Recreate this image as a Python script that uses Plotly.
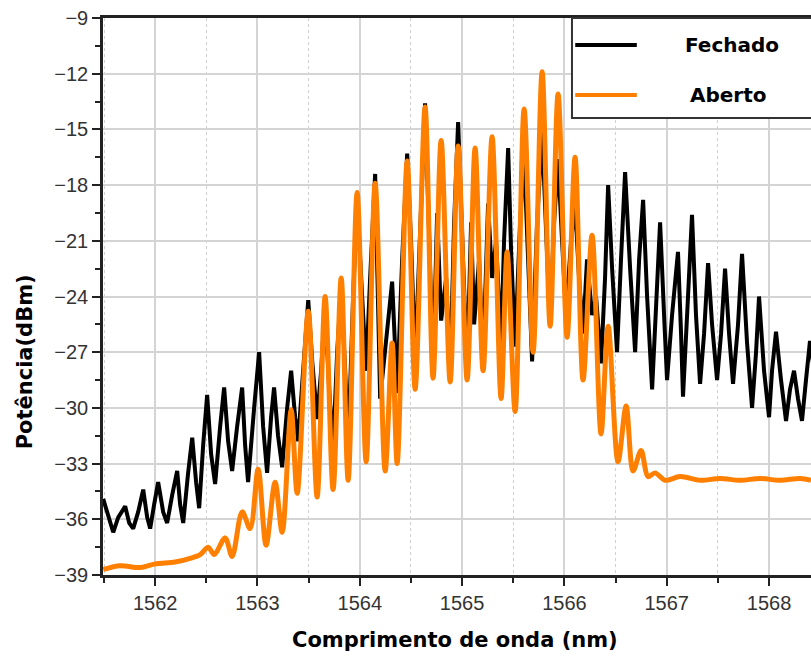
import plotly.graph_objects as go

# ---- data ----
wl_fechado = [1561.492, 1561.541, 1561.590, 1561.639, 1561.707, 1561.746, 1561.785, 1561.834, 1561.883, 1561.922,
              1561.951, 1561.990, 1562.029, 1562.078, 1562.117, 1562.166, 1562.215, 1562.244, 1562.274, 1562.322,
              1562.362, 1562.400, 1562.430, 1562.469, 1562.508, 1562.547, 1562.586, 1562.635, 1562.674, 1562.713,
              1562.752, 1562.801, 1562.850, 1562.879, 1562.908, 1562.967, 1563.016, 1563.055, 1563.094, 1563.133,
              1563.162, 1563.201, 1563.241, 1563.290, 1563.329, 1563.368, 1563.397, 1563.446, 1563.496, 1563.535,
              1563.583, 1563.622, 1563.661, 1563.701, 1563.739, 1563.779, 1563.818, 1563.857, 1563.886, 1563.935,
              1563.974, 1564.023, 1564.062, 1564.101, 1564.150, 1564.199, 1564.248, 1564.316, 1564.365, 1564.414,
              1564.463, 1564.502, 1564.541, 1564.590, 1564.638, 1564.677, 1564.716, 1564.756, 1564.795, 1564.844,
              1564.883, 1564.922, 1564.961, 1565.000, 1565.049, 1565.088, 1565.117, 1565.166, 1565.205, 1565.254,
              1565.293, 1565.332, 1565.381, 1565.410, 1565.450, 1565.479, 1565.518, 1565.567, 1565.606, 1565.645,
              1565.684, 1565.733, 1565.782, 1565.821, 1565.860, 1565.899, 1565.938, 1565.977, 1566.016, 1566.065,
              1566.104, 1566.143, 1566.182, 1566.221, 1566.270, 1566.309, 1566.358, 1566.397, 1566.427, 1566.466,
              1566.514, 1566.553, 1566.593, 1566.642, 1566.691, 1566.730, 1566.769, 1566.808, 1566.857, 1566.896,
              1566.935, 1566.974, 1567.003, 1567.052, 1567.110, 1567.140, 1567.159, 1567.208, 1567.247, 1567.286,
              1567.326, 1567.365, 1567.404, 1567.443, 1567.492, 1567.531, 1567.570, 1567.609, 1567.648, 1567.697,
              1567.736, 1567.785, 1567.834, 1567.873, 1567.902, 1567.951, 1568.000, 1568.029, 1568.068, 1568.117,
              1568.166, 1568.205, 1568.244, 1568.283, 1568.322, 1568.361, 1568.400, 1568.440]
pw_fechado = [-34.9, -35.8, -36.7, -35.9, -35.3, -36.2, -36.5, -35.6, -34.4, -35.9,
              -36.5, -35.2, -34.0, -35.6, -36.2, -34.7, -33.4, -35.2, -36.2, -33.5,
              -31.6, -34.0, -35.4, -32.0, -29.3, -32.5, -34.1, -31.0, -28.9, -31.8,
              -33.4, -31.0, -28.9, -32.0, -34.0, -30.0, -27.0, -31.0, -33.5, -30.5,
              -28.9, -31.5, -33.2, -30.0, -28.0, -30.5, -31.8, -28.0, -24.2, -27.5,
              -30.6, -28.0, -24.5, -29.0, -32.2, -27.0, -23.5, -28.0, -32.1, -24.0,
              -18.8, -24.0, -28.0, -23.0, -17.4, -29.5, -27.0, -23.2, -29.2, -22.0,
              -16.3, -21.2, -27.5, -20.0, -13.6, -20.5, -28.0, -19.5, -25.3, -23.0,
              -28.3, -20.0, -14.6, -20.6, -28.0, -20.0, -25.5, -22.0, -27.5, -19.0,
              -23.0, -21.0, -26.7, -21.0, -16.0, -21.6, -26.7, -20.0, -16.4, -22.0,
              -27.5, -20.0, -15.1, -20.5, -25.5, -20.0, -16.6, -21.0, -25.0, -21.0,
              -19.0, -23.0, -26.0, -22.0, -25.0, -24.0, -27.6, -23.0, -18.0, -22.5,
              -27.0, -22.0, -17.3, -22.5, -27.0, -22.0, -18.8, -24.0, -29.0, -24.5,
              -20.0, -25.0, -28.5, -25.0, -21.6, -26.0, -29.4, -24.0, -19.6, -25.0,
              -28.7, -26.0, -22.2, -25.5, -28.5, -26.0, -22.5, -26.0, -28.7, -25.5,
              -21.7, -26.5, -30.0, -27.0, -24.0, -28.0, -30.5, -28.0, -25.9, -28.5,
              -30.7, -29.0, -28.0, -29.5, -30.7, -28.5, -26.4, -28.0]

wl_aberto = [1561.492, 1561.658, 1561.853, 1562.000, 1562.195, 1562.342, 1562.440, 1562.518, 1562.577, 1562.684,
             1562.752, 1562.850, 1562.928, 1563.006, 1563.084, 1563.172, 1563.241, 1563.329, 1563.388, 1563.496,
             1563.583, 1563.661, 1563.739, 1563.818, 1563.886, 1563.974, 1564.062, 1564.150, 1564.248, 1564.316,
             1564.365, 1564.463, 1564.541, 1564.638, 1564.716, 1564.795, 1564.883, 1564.961, 1565.049, 1565.127,
             1565.205, 1565.293, 1565.381, 1565.440, 1565.518, 1565.606, 1565.694, 1565.782, 1565.860, 1565.938,
             1566.026, 1566.104, 1566.182, 1566.270, 1566.358, 1566.427, 1566.524, 1566.603, 1566.671, 1566.749,
             1566.818, 1566.886, 1566.984, 1567.130, 1567.326, 1567.521, 1567.716, 1567.912, 1568.107, 1568.303,
             1568.410]
pw_aberto = [-38.7, -38.5, -38.6, -38.4, -38.3, -38.1, -37.9, -37.5, -37.9, -37.0,
             -38.0, -35.6, -36.5, -33.3, -37.4, -34.0, -36.7, -30.1, -34.6, -24.8,
             -34.8, -24.0, -34.4, -23.0, -33.9, -18.4, -32.9, -17.9, -33.4, -26.5,
             -33.0, -16.7, -29.0, -13.8, -28.4, -15.6, -28.6, -15.9, -28.5, -16.0,
             -28.0, -15.4, -29.5, -21.6, -30.2, -13.9, -27.0, -11.9, -25.6, -13.1,
             -26.2, -16.5, -28.5, -20.7, -31.4, -25.6, -32.9, -29.9, -33.4, -32.3,
             -33.7, -33.5, -33.9, -33.7, -33.9, -33.8, -33.9, -33.8, -33.9, -33.8,
             -33.9]

x_ticks = [1562, 1563, 1564, 1565, 1566, 1567, 1568]
y_ticks = [-39, -36, -33, -30, -27, -24, -21, -18, -15, -12, -9]
series_names = ["Fechado", "Aberto"]
colors = ["#000000", "#ff7f00"]
x_title = "Comprimento de onda (nm)"
y_title = "Potência(dBm)"

fig = go.Figure()
fig.add_trace(go.Scatter(x=wl_fechado, y=pw_fechado, mode="lines", name=series_names[0],
                         line=dict(color=colors[0], width=4)))
fig.add_trace(go.Scatter(x=wl_aberto, y=pw_aberto, mode="lines", name=series_names[1],
                         line=dict(color=colors[1], width=5, shape="spline", smoothing=0.9)))

tick_font = dict(family="Liberation Sans, Arial, sans-serif", size=20, color="#333333")
title_font = dict(family="DejaVu Sans, Verdana, sans-serif", size=21, color="#000000")
legend_font = dict(family="DejaVu Sans, Verdana, sans-serif", size=20, color="#000000")

fig.update_layout(
    width=811, height=661,
    margin=dict(l=103, r=0, t=18, b=86),
    paper_bgcolor="white", plot_bgcolor="white",
    showlegend=False,
    xaxis=dict(
        range=[1561.49, 1568.41], tickvals=x_ticks,
        ticks="outside", ticklen=8, tickwidth=2, tickcolor="#222",
        showline=True, linecolor="#222", linewidth=2.5, mirror=True,
        showgrid=True, gridcolor="#d4d4d4", gridwidth=1.5, zeroline=False,
        tickfont=tick_font,
        minor=dict(dtick=0.5, tick0=1561.5, ticks="outside", ticklen=5, tickwidth=2, tickcolor="#222",
                   showgrid=True, gridcolor="#d0d0d0", griddash="dot", gridwidth=1),
    ),
    yaxis=dict(
        range=[-39, -9], tickvals=y_ticks,
        ticks="outside", ticklen=8, tickwidth=2, tickcolor="#222",
        showline=True, linecolor="#222", linewidth=2.5, mirror=False,
        showgrid=True, gridcolor="#d4d4d4", gridwidth=1.5, zeroline=False,
        tickfont=tick_font,
        minor=dict(dtick=1.5, tick0=-39, ticks="outside", ticklen=5, tickwidth=2, tickcolor="#222",
                   showgrid=False),
    ),
)

# axis titles placed as in the reference
fig.add_annotation(xref="paper", yref="paper", x=0.497, y=-0.1167, text="<b>" + x_title + "</b>",
                   showarrow=False, font=title_font, xanchor="center", yanchor="middle")
fig.add_annotation(xref="paper", yref="paper", x=-0.110, y=0.382, text="<b>" + y_title + "</b>",
                   showarrow=False, font=title_font, textangle=-90, xanchor="center", yanchor="middle")

# legend box drawn as in the reference (sample lines far from the labels)
fig.add_shape(type="rect", xref="paper", yref="paper", x0=0.6624, x1=1.05, y0=0.8205, y1=1.0,
              line=dict(color="#333333", width=2), fillcolor="white", layer="above")
fig.add_shape(type="line", xref="paper", yref="paper", x0=0.667, x1=0.754, y0=0.9515, y1=0.9515,
              line=dict(color=colors[0], width=4), layer="above")
fig.add_shape(type="line", xref="paper", yref="paper", x0=0.667, x1=0.754, y0=0.8618, y1=0.8618,
              line=dict(color=colors[1], width=4), layer="above")
fig.add_annotation(xref="paper", yref="paper", x=0.888, y=0.9515, text="<b>" + series_names[0] + "</b>",
                   showarrow=False, font=legend_font, xanchor="center", yanchor="middle")
fig.add_annotation(xref="paper", yref="paper", x=0.884, y=0.8618, text="<b>" + series_names[1] + "</b>",
                   showarrow=False, font=legend_font, xanchor="center", yanchor="middle")

fig.write_html("out.html")
